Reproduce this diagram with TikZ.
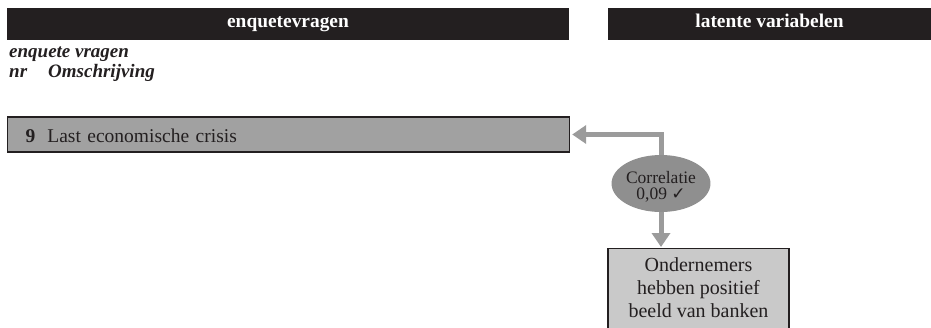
\documentclass[tikz,border=0pt]{standalone}
\usepackage{fontspec}
\setmainfont{Liberation Serif}
\newfontfamily\symfont{DejaVu Sans}
\usetikzlibrary{arrows.meta,shapes.geometric}

\definecolor{barblack}{HTML}{231F20}
\definecolor{itemgray}{HTML}{A1A1A1}
\definecolor{latentgray}{HTML}{C9C9C9}
\definecolor{corrgray}{HTML}{8F8F8F}
\definecolor{linkgray}{HTML}{9B9B9B}

\tikzset{
  headbar/.style={fill=barblack, text=white, inner sep=0pt,
    minimum height=32pt, text height=11pt, text depth=4pt,
    font=\fontsize{19.4pt}{23pt}\selectfont\bfseries},
  colhead/.style={anchor=base west, inner sep=0pt, text=barblack,
    font=\fontsize{19pt}{23pt}\selectfont\bfseries\itshape},
  itembox/.style={draw=barblack, line width=1.2pt, fill=itemgray,
    anchor=west, minimum width=562pt, minimum height=35pt,
    inner xsep=18pt, text height=16pt, text depth=0pt,
    text width=526pt, align=left,
    font=\fontsize{19.5pt}{23pt}\selectfont, text=barblack},
  latentbox/.style={draw=barblack, line width=1.2pt, fill=latentgray,
    anchor=north, minimum width=181pt, inner ysep=9pt,
    align=center, font=\fontsize{20pt}{23pt}\selectfont, text=barblack},
  corrnode/.style={ellipse, fill=corrgray, inner sep=0pt,
    minimum width=83pt, minimum height=57pt,
    align=center, text height=31pt, text depth=0pt,
    font=\fontsize{17.5pt}{16pt}\selectfont, text=barblack},
  link/.style={draw=linkgray, line width=5pt,
    -{Triangle[length=14pt,width=18pt]}},
}

\begin{document}
\begin{tikzpicture}[x=1pt,y=-1pt]
  \clip (0,0) rectangle (931,327);
  \fill[white] (0,0) rectangle (931,327);

  % column headers
  \node[headbar, minimum width=562pt] (hq) at (288,24) {enquetevragen};
  \node[headbar, minimum width=323pt] (hl) at (769.5,24) {latente variabelen};

  % sub-headers of the question column
  \node[colhead] (sub1) at (9,57) {enquete vragen};
  \node[colhead] (sub2) at (9,77.3) {nr};
  \node[colhead] (sub3) at (48,77.3) {Omschrijving};

  % survey question
  \node[itembox] (item9) at (7,134.5) {\textbf{9}\hspace{12pt}Last economische crisis};

  % correlation and latent variable
  \node[corrnode] (corr) at (661,183.5) {Correlatie\\0,09 {\symfont\bfseries\fontsize{17pt}{16pt}\selectfont ✓}};
  \node[latentbox] (latent) at (698.5,248)
    {Ondernemers\\hebben positief\\beeld van banken\rule[-30pt]{0pt}{30pt}};

  % connectors
  \draw[link, shorten >=2pt] (corr.north) |- (item9.east);
  \draw[link, shorten >=1pt] (corr.south) -- (corr.south |- latent.north);
\end{tikzpicture}
\end{document}
